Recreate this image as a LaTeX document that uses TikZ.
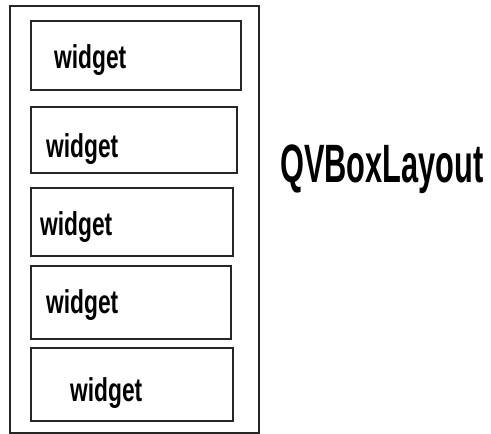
\documentclass[tikz,border=0pt]{standalone}
\usepackage{fontspec}
\setmainfont{Liberation Sans}
\newfontfamily\widgetfont[FakeStretch=0.69]{Liberation Sans Bold}
\newfontfamily\titlefont[FakeStretch=0.57]{Liberation Sans Bold}
\begin{document}
\begin{tikzpicture}[x=1pt,y=-1pt,
  box/.style={draw=black!85,line width=2pt},
  wtext/.style={anchor=base west,inner sep=0pt,font=\widgetfont\fontsize{33}{36}\selectfont},
  ttext/.style={anchor=base west,inner sep=0pt,font=\titlefont\fontsize{54}{60}\selectfont}]
\useasboundingbox (0,0) rectangle (491,434);
\draw[box] (10,6) rectangle (259,433);
\draw[box] (31,21) rectangle (241,90);
\draw[box] (31,107) rectangle (237,173);
\draw[box] (31,188) rectangle (233,256);
\draw[box] (31,266) rectangle (231,339);
\draw[box] (31,348) rectangle (233,421);
\node[wtext] (w1) at (54,68) {widget};
\node[wtext] (w2) at (46,157) {widget};
\node[wtext] (w3) at (40,235) {widget};
\node[wtext] (w4) at (46,313) {widget};
\node[wtext] (w5) at (70,401) {widget};
\node[ttext] (title) at (280,182) {QVBoxLayout};
\end{tikzpicture}
\end{document}
